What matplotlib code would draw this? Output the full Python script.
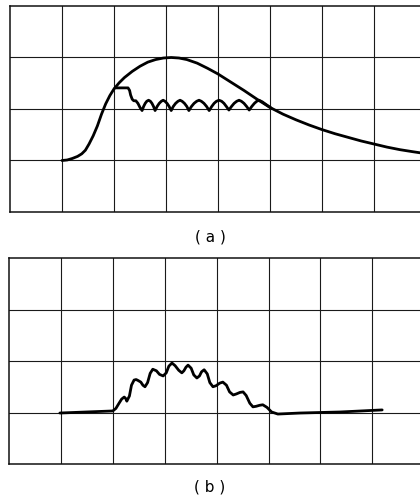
import matplotlib
matplotlib.use("Agg")
import matplotlib.pyplot as plt

# Panel (a): smooth envelope, in grid divisions
ENV_X = [1.00, 1.10, 1.20, 1.30, 1.38, 1.45, 1.52, 1.60, 1.68, 1.76, 1.84, 1.92,
         2.00, 2.10, 2.20, 2.35, 2.50, 2.65, 2.80, 2.95, 3.10, 3.25, 3.40, 3.60,
         3.80, 4.00, 4.25, 4.50, 4.75, 5.00, 5.25, 5.50, 5.75, 6.00, 6.25, 6.50,
         6.75, 7.00, 7.25, 7.50, 7.75, 7.95]
ENV_Y = [1.00, 1.01, 1.04, 1.08, 1.13, 1.20, 1.32, 1.48, 1.67, 1.90, 2.10, 2.26,
         2.39, 2.51, 2.61, 2.73, 2.83, 2.91, 2.96, 2.99, 3.00, 2.99, 2.96, 2.89,
         2.79, 2.68, 2.52, 2.36, 2.19, 2.03, 1.90, 1.79, 1.69, 1.60, 1.52, 1.45,
         1.38, 1.32, 1.26, 1.21, 1.17, 1.14]

# Panel (a): rippled trace
RIP_X = [2.02, 2.27, 2.30, 2.32, 2.35, 2.38, 2.42, 2.46, 2.50,
         2.54, 2.57, 2.60, 2.63, 2.665, 2.70, 2.73, 2.76,
         2.79, 2.83, 2.87, 2.91, 2.945, 2.98, 3.02, 3.06,
         3.10, 3.14, 3.185, 3.23, 3.27, 3.31, 3.355, 3.40,
         3.44, 3.49, 3.54, 3.59, 3.635, 3.68, 3.73, 3.78,
         3.83, 3.88, 3.925, 3.97, 4.02, 4.07, 4.115, 4.16,
         4.21, 4.26, 4.31, 4.36, 4.405, 4.45, 4.50, 4.55,
         4.60, 4.65, 4.70, 4.745, 4.79, 4.85, 4.92, 5.02]
RIP_Y = [2.41, 2.41, 2.36, 2.27, 2.19, 2.16, 2.16, 2.11, 2.03,
         1.97, 2.05, 2.11, 2.15, 2.17, 2.15, 2.11, 2.05,
         1.97, 2.05, 2.11, 2.15, 2.17, 2.15, 2.11, 2.05,
         1.97, 2.05, 2.11, 2.15, 2.17, 2.15, 2.11, 2.05,
         1.97, 2.05, 2.11, 2.15, 2.17, 2.15, 2.11, 2.05,
         1.97, 2.05, 2.11, 2.15, 2.17, 2.15, 2.11, 2.05,
         1.98, 2.05, 2.11, 2.15, 2.17, 2.15, 2.11, 2.05,
         1.98, 2.05, 2.11, 2.15, 2.17, 2.14, 2.09, 2.02]

# Panel (b): output trace
OUT_X = [0.98, 2.00, 2.06, 2.12, 2.17, 2.22, 2.25, 2.27, 2.32, 2.36, 2.41,
         2.45, 2.49, 2.54, 2.58, 2.62, 2.67, 2.72, 2.77, 2.84, 2.90, 2.97,
         3.03, 3.08, 3.14, 3.20, 3.27, 3.33, 3.37, 3.41, 3.45, 3.51, 3.56,
         3.62, 3.67, 3.71, 3.76, 3.82, 3.87, 3.93, 3.99, 4.06, 4.12, 4.19,
         4.25, 4.32, 4.38, 4.45, 4.51, 4.57, 4.64, 4.70, 4.76, 4.83, 4.89,
         4.97, 5.06, 5.18, 5.61, 6.38, 7.19]
OUT_Y = [0.99, 1.03, 1.08, 1.18, 1.26, 1.30, 1.27, 1.22, 1.32, 1.53, 1.63,
         1.64, 1.62, 1.59, 1.53, 1.50, 1.58, 1.76, 1.84, 1.81, 1.74, 1.71,
         1.77, 1.90, 1.96, 1.91, 1.82, 1.77, 1.81, 1.88, 1.92, 1.86, 1.73,
         1.67, 1.71, 1.79, 1.83, 1.75, 1.58, 1.50, 1.52, 1.57, 1.59, 1.53,
         1.40, 1.34, 1.36, 1.39, 1.40, 1.33, 1.18, 1.11, 1.12, 1.14, 1.15,
         1.10, 1.01, 0.97, 0.99, 1.01, 1.05]

N_COLS = 8
N_ROWS = 4
LABELS = ["( a )", "( b )"]

W, H = 420, 498
fig = plt.figure(figsize=(W / 100, H / 100), dpi=100)


def grid_axes(left_px, top_px, col_px, row_px):
    ax = fig.add_axes([left_px / W, 1 - (top_px + N_ROWS * row_px) / H,
                       N_COLS * col_px / W, N_ROWS * row_px / H])
    ax.set_xlim(0, N_COLS)
    ax.set_ylim(0, N_ROWS)
    for i in range(1, N_COLS):
        ax.axvline(i, color="#1a1a1a", linewidth=0.8, zorder=1)
    for j in range(1, N_ROWS):
        ax.axhline(j, color="#1a1a1a", linewidth=0.8, zorder=1)
    ax.set_xticks([])
    ax.set_yticks([])
    for side in ("left", "top", "bottom", "right"):
        ax.spines[side].set_linewidth(1.1)
        ax.spines[side].set_color("#111111")
    return ax


line_style = dict(color="black", linewidth=2.0, solid_joinstyle="round",
                  solid_capstyle="round", zorder=3)

ax_a = grid_axes(10, 6, 52.0, 51.5)
ax_a.plot(ENV_X, ENV_Y, clip_on=False, **line_style)
ax_a.plot(RIP_X, RIP_Y, **line_style)
fig.text(210 / W, 1 - 237 / H, LABELS[0], ha="center", va="center", fontsize=11)

ax_b = grid_axes(9, 258, 51.9, 51.5)
ax_b.plot(OUT_X, OUT_Y, **line_style)
fig.text(210 / W, 1 - 487 / H, LABELS[1], ha="center", va="center", fontsize=11)

fig.savefig("out.png", dpi=100)
